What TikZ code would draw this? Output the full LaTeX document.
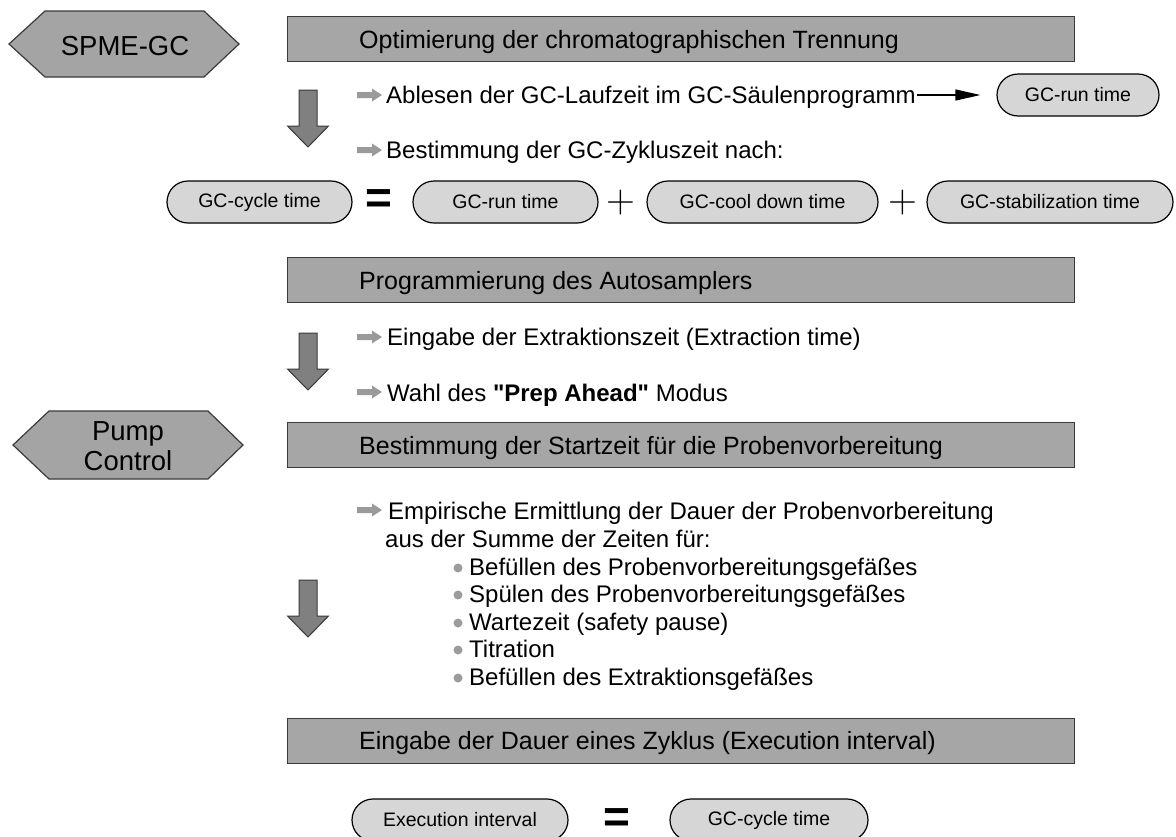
\documentclass[tikz,border=0pt]{standalone}
\usepackage{fontspec}
\setmainfont{Liberation Sans}
\usetikzlibrary{shapes.misc,arrows.meta}
\definecolor{hdrfill}{HTML}{A6A6A6}
\definecolor{hexfill}{HTML}{A4A4A4}
\definecolor{pillfill}{HTML}{D6D6D6}
\definecolor{darrfill}{HTML}{808080}
\definecolor{sarrfill}{HTML}{9A9A9A}
\definecolor{edge}{HTML}{3A3A3A}
\definecolor{dotcol}{HTML}{9C9C9C}
\newcommand\lmplus{{\fontfamily{lmr}\fontsize{40}{40}\selectfont +}}
\tikzset{
  hdr/.style={draw=edge, fill=hdrfill, line width=1.2pt, minimum width=787pt, minimum height=45pt, anchor=north west, inner sep=0pt},
  hdrtext/.style={anchor=base west, inner sep=0pt, font=\fontsize{25}{30}\selectfont},
  body/.style={anchor=base west, inner sep=0pt, font=\fontsize{24}{28}\selectfont},
  pill/.style={rounded rectangle, draw=black, fill=pillfill, line width=1.2pt, minimum height=42pt, inner sep=0pt, font=\fontsize{19.5}{22}\selectfont},
  hexa/.style={draw=edge, fill=hexfill, line width=1.2pt},
  hextext/.style={inner sep=0pt, font=\fontsize{27.5}{30}\selectfont, align=center},
  darrow/.style={draw=edge, fill=darrfill, line width=1pt},
  eqsign/.style={inner sep=0pt, font=\bfseries\fontsize{46}{46}\selectfont},
  plussign/.style={inner sep=0pt},
  dot/.style={circle, fill=dotcol, minimum size=9pt, inner sep=0pt},
  conn/.style={-{Triangle[length=25pt,width=11pt]}, line width=1.3pt, black},
  pics/sarr/.style={code={\fill[sarrfill] (0,-3) -- (15,-3) -- (15,-6.5) -- (25,0) -- (15,6.5) -- (15,3) -- (0,3) -- cycle;}},
  pics/darr/.style={code={\draw[darrow] (-9,0) -- (9,0) -- (9,36) -- (20.5,36) -- (0,57) -- (-20.5,36) -- (-9,36) -- cycle;}},
}
\begin{document}
\begin{tikzpicture}[x=1pt,y=-1pt]
\useasboundingbox (0,0) rectangle (1176,836);

% hexagons
\draw[hexa] (9,44) -- (45,11) -- (204,11) -- (239,44) -- (204,77) -- (45,77) -- cycle;
\node[hextext, anchor=base] (spme) at (125,55) {SPME-GC};
\draw[hexa] (13,445) -- (49,411) -- (208,411) -- (243,445) -- (208,479) -- (49,479) -- cycle;
\node[hextext] (pump) at (128,446) {Pump\\Control};

% headers
\node[hdr] (h1) at (287,16) {};
\node[hdrtext] (h1t) at (359,48) {Optimierung der chromatographischen Trennung};
\node[hdr] (h2) at (287,257) {};
\node[hdrtext] (h2t) at (359,289) {Programmierung des Autosamplers};
\node[hdr] (h3) at (287,422) {};
\node[hdrtext] (h3t) at (359,454) {Bestimmung der Startzeit für die Probenvorbereitung};
\node[hdr] (h4) at (287,718) {};
\node[hdrtext] (h4t) at (359,749) {Eingabe der Dauer eines Zyklus (Execution interval)};

% down arrows
\pic at (308,90) {darr};
\pic at (308,333) {darr};
\pic at (308,580) {darr};

% section 1
\pic at (357,95) {sarr};
\node[body] (la) at (386,103) {Ablesen der GC-Laufzeit im GC-Säulenprogramm};
\node[pill, minimum width=162pt] (run1) at (1078,95) {GC-run time};
\coordinate (aS) at (917,95);
\draw[conn, shorten >=16pt] (aS) -- (run1.west);
\pic at (357,150) {sarr};
\node[body] (lb) at (386,158) {Bestimmung der GC-Zykluszeit nach:};

% formula row
\node[pill, minimum width=185pt] (cyc1) at (259.5,202) {GC-cycle time};
\node[eqsign] (eq1) at (379,202) {=};
\node[pill, minimum width=185pt] (run2) at (505.5,202) {GC-run time};
\node[plussign] (p1) at (621,203) {\lmplus};
\node[pill, minimum width=231pt] (cool) at (762.5,202) {GC-cool down time};
\node[plussign] (p2) at (903,203) {\lmplus};
\node[pill, minimum width=246pt] (stab) at (1050,202) {GC-stabilization time};

% section 2
\pic at (357,337) {sarr};
\node[body] (lc) at (387,345) {Eingabe der Extraktionszeit (Extraction time)};
\pic at (357,392) {sarr};
\node[body] (ld) at (387,401) {Wahl des \textbf{\textquotedbl Prep Ahead\textquotedbl} Modus};

% section 3
\pic at (357,510) {sarr};
\node[body] (le) at (388,519) {Empirische Ermittlung der Dauer der Probenvorbereitung};
\node[body] (lf) at (385,547) {aus der Summe der Zeiten für:};
\node[dot] (d1) at (458,568) {};
\node[body] (b1) at (469,575) {Befüllen des Probenvorbereitungsgefäßes};
\node[dot] (d2) at (458,595) {};
\node[body] (b2) at (469,602) {Spülen des Probenvorbereitungsgefäßes};
\node[dot] (d3) at (458,623) {};
\node[body] (b3) at (469,630) {Wartezeit (safety pause)};
\node[dot] (d4) at (458,650) {};
\node[body] (b4) at (469,657) {Titration};
\node[dot] (d5) at (458,678) {};
\node[body] (b5) at (469,685) {Befüllen des Extraktionsgefäßes};

% execution row
\node[pill, minimum width=216pt] (exe) at (460,820) {Execution interval};
\node[eqsign] (eq2) at (617,821) {=};
\node[pill, minimum width=198pt] (cyc2) at (769,820) {GC-cycle time};
\end{tikzpicture}
\end{document}
